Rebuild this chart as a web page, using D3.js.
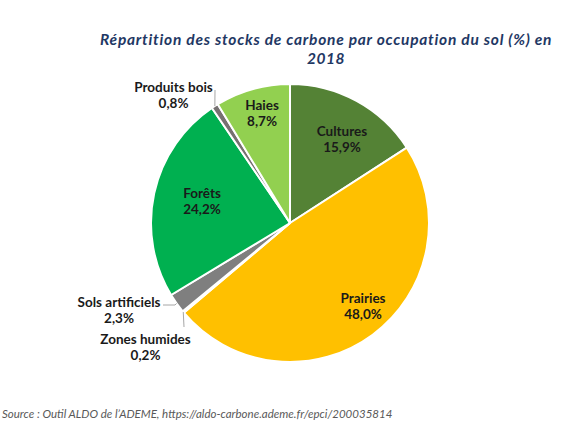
<!DOCTYPE html>
<html><head><meta charset="utf-8">
<script src="https://cdn.jsdelivr.net/npm/d3@7/dist/d3.min.js"></script>
<style>
html,body{margin:0;padding:0;background:#fff;}
svg{display:block;}
</style></head>
<body>
<svg id="chart" width="585" height="438"></svg>
<script>
// ---- data ----
const categories = ["Cultures","Prairies","Zones humides","Sols artificiels","Forêts","Produits bois","Haies"];
const values = [15.9, 48.0, 0.2, 2.3, 24.2, 0.8, 8.7];
const valueLabels = ["15,9%","48,0%","0,2%","2,3%","24,2%","0,8%","8,7%"];
const titleLines = ["Répartition des stocks de carbone par occupation du sol (%) en","2018"];
const sourceText = "Source : Outil ALDO de l’ADEME, https://aldo-carbone.ademe.fr/epci/200035814";

// ---- styling / layout ----
const colors = ["#548235","#FFC000","#BFBFBF","#7F7F7F","#00B050","#767171","#92D050"];
const cx = 290, cy = 223, R = 139;
const labelOffset = [[52,-87],[73,80],[-144.5,121],[-171,84],[-88,-25],[-116.5,-131],[-28,-113]];
const leaderEnd = [null,null,[[-106,104]],[[-115,82],[-127,82]],null,[[-75,-133]],null];

const svg = d3.select("#chart");

// title
const title = svg.append("g").selectAll("text").data(titleLines).join("text")
  .attr("x", 326).attr("y", (d,i)=>45 + i*18.5)
  .attr("text-anchor","middle")
  .attr("font-family","Lato, 'DejaVu Sans', sans-serif")
  .attr("font-style","italic").attr("font-weight","bold")
  .attr("font-size",15.5).attr("letter-spacing",0.5).attr("fill","#1F3864")
  .text(d=>d);
// fit first line to the reference width
title.filter((d,i)=>i===0).each(function(){
  const w = this.getComputedTextLength();
  if (w > 0) d3.select(this).attr("textLength",452).attr("lengthAdjust","spacing");
});

const pie = d3.pie().sort(null).value(d=>d);
const arc = d3.arc().innerRadius(0).outerRadius(R);
const arcs = pie(values);

const g = svg.append("g").attr("transform",`translate(${cx},${cy})`);
g.selectAll("path").data(arcs).join("path")
  .attr("d", arc)
  .attr("fill",(d,i)=>colors[i])
  .attr("stroke","#fff").attr("stroke-width",2).attr("stroke-linejoin","round");

// leader lines
const edgeArc = d3.arc().innerRadius(R).outerRadius(R);
arcs.forEach((d,i)=>{
  if(!leaderEnd[i]) return;
  const s = edgeArc.centroid(d);
  const pts = [s, ...leaderEnd[i]];
  g.append("path").attr("d", d3.line()(pts))
    .attr("fill","none").attr("stroke","#A6A6A6").attr("stroke-width",1);
});

// labels
const lg = g.append("g")
  .attr("font-family","Lato, 'DejaVu Sans', sans-serif")
  .attr("font-weight","bold").attr("font-size",13.5).attr("fill","#1a1a1a")
  .attr("text-anchor","middle");
arcs.forEach((d,i)=>{
  const [ox,oy] = labelOffset[i];
  const t = lg.append("text").attr("x",ox).attr("y",oy);
  t.append("tspan").attr("x",ox).attr("dy",0).text(categories[i]);
  t.append("tspan").attr("x",ox).attr("dy",16).text(valueLabels[i]);
});

// source
svg.append("text").attr("x",2).attr("y",418)
  .attr("font-family","Lato, 'Liberation Sans', sans-serif")
  .attr("font-style","italic").attr("font-size",11.5).attr("fill","#595959")
  .text(sourceText);
</script>
</body></html>
